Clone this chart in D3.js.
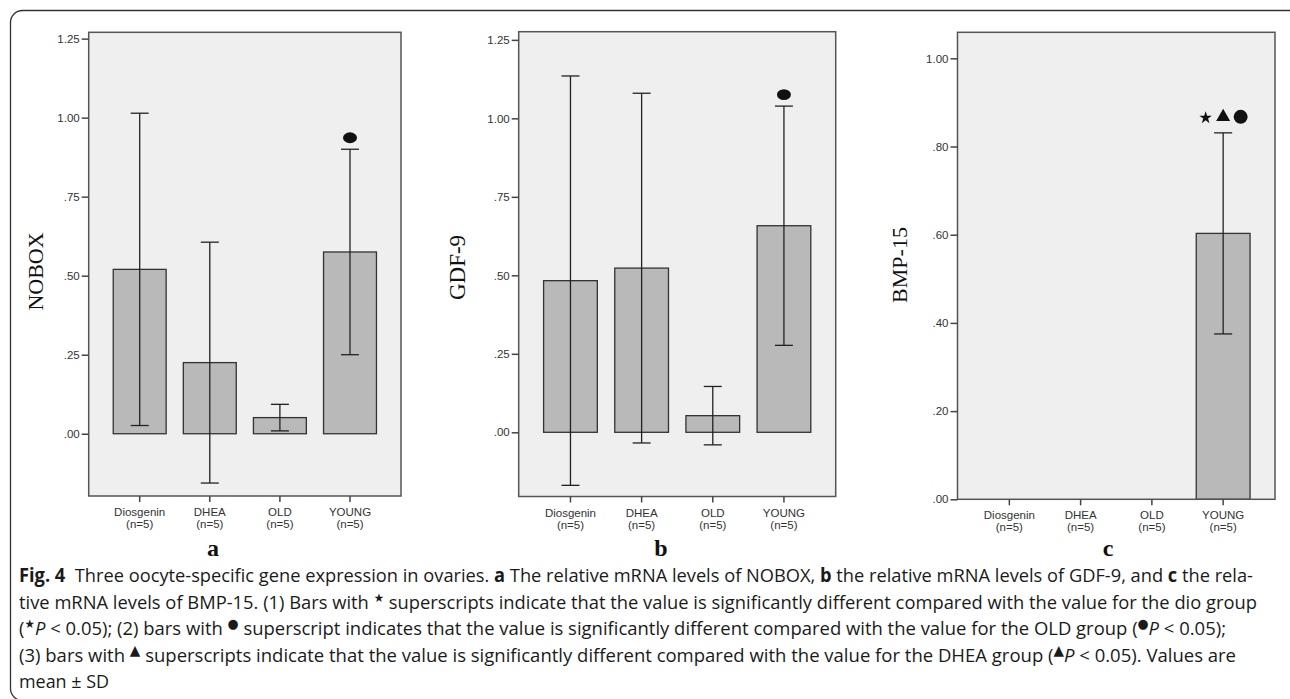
<!DOCTYPE html>
<html>
<head>
<meta charset="utf-8">
<script src="https://cdn.jsdelivr.net/npm/d3@7"></script>
<style>
  body { margin: 0; background: #fff; }
  svg { display: block; }
</style>
</head>
<body>
<svg id="fig" width="1290" height="699"></svg>
<script>
// groups on the x axis (same in all three panels)
const groups = ["Diosgenin", "DHEA", "OLD", "YOUNG"];

// a - NOBOX
const noboxMean = [0.52, 0.225, 0.051, 0.575];
const noboxSD = [0.494, 0.381, 0.042, 0.325];
const noboxMarks = [[], [], [], ["circle"]];
const ticksAB = [0, 0.25, 0.5, 0.75, 1.0, 1.25];

// b - GDF-9
const gdfMean = [0.483, 0.523, 0.053, 0.658];
const gdfSD = [0.652, 0.557, 0.093, 0.381];
const gdfMarks = [[], [], [], ["circle"]];

// c - BMP-15
const bmpMean = [0, 0, 0, 0.603];
const bmpSD = [0, 0, 0, 0.228];
const bmpMarks = [[], [], [], ["star", "triangle", "circle"]];
const ticksC = [0, 0.2, 0.4, 0.6, 0.8, 1.0];

const svg = d3.select("#fig");

// outer figure frame
svg.append("rect")
  .attr("x", 10.5).attr("y", 10.5)
  .attr("width", 1292).attr("height", 690)
  .attr("rx", 12)
  .attr("fill", "none")
  .attr("stroke", "#333")
  .attr("stroke-width", 1.3);

const fmt = (d) => d3.format(".2f")(d).replace(/^0/, "");

const symbolTypes = {
  star: { type: d3.symbolStar, size: 48 },
  triangle: { type: d3.symbolTriangle, size: 85 },
  circle: { type: d3.symbolCircle, size: 154 },
};

function drawPanel(p) {
  const g = svg.append("g");

  const x = d3.scaleBand()
    .domain(groups)
    .range([p.x0, p.x1])
    .paddingInner(0.245)
    .paddingOuter(0.35);

  const y = d3.scaleLinear().domain(p.domain).range([p.y1, p.y0]);

  // plot background
  g.append("rect")
    .attr("x", p.x0).attr("y", p.y0)
    .attr("width", p.x1 - p.x0).attr("height", p.y1 - p.y0)
    .attr("fill", "#efefef");

  const rows = groups.map((name, i) => ({
    name, mean: p.mean[i], sd: p.sd[i], marks: p.marks[i],
  }));

  // bars
  g.selectAll(".bar")
    .data(rows)
    .join("rect")
    .attr("class", "bar")
    .attr("x", (d) => x(d.name))
    .attr("y", (d) => y(Math.max(0, d.mean)))
    .attr("width", x.bandwidth())
    .attr("height", (d) => Math.abs(y(d.mean) - y(0)))
    .attr("fill", "#b9b9b9")
    .attr("stroke", "#333")
    .attr("stroke-width", 1.3);

  // error bars (mean +/- SD)
  const err = g.selectAll(".err")
    .data(rows.filter((d) => d.sd > 0))
    .join("g")
    .attr("class", "err")
    .attr("stroke", "#222")
    .attr("stroke-width", 1.3);
  const cx = (d) => x(d.name) + x.bandwidth() / 2;
  err.append("line")
    .attr("x1", cx).attr("x2", cx)
    .attr("y1", (d) => y(d.mean + d.sd))
    .attr("y2", (d) => y(d.mean - d.sd));
  err.append("line")
    .attr("x1", (d) => cx(d) - 9).attr("x2", (d) => cx(d) + 9)
    .attr("y1", (d) => y(d.mean + d.sd)).attr("y2", (d) => y(d.mean + d.sd));
  err.append("line")
    .attr("x1", (d) => cx(d) - 9).attr("x2", (d) => cx(d) + 9)
    .attr("y1", (d) => y(d.mean - d.sd)).attr("y2", (d) => y(d.mean - d.sd));

  // significance marks above the error bar
  rows.forEach((d) => {
    const n = d.marks.length;
    d.marks.forEach((m, k) => {
      const s = symbolTypes[m];
      const mx = cx(d) + (k - (n - 1) / 2) * 17.5;
      const my = y(d.mean + d.sd) - p.markOffset;
      g.append("path")
        .attr("d", d3.symbol().type(s.type).size(s.size)())
        .attr("transform", `translate(${mx},${my + (m === "star" ? 1 : 0)}) scale(${p.markScaleX},${p.markScaleY})`)
        .attr("fill", "#111");
    });
  });

  // plot frame
  g.append("rect")
    .attr("x", p.x0).attr("y", p.y0)
    .attr("width", p.x1 - p.x0).attr("height", p.y1 - p.y0)
    .attr("fill", "none")
    .attr("stroke", "#555")
    .attr("stroke-width", 1.5);

  // y axis
  const yAxis = g.append("g")
    .attr("transform", `translate(${p.x0},0)`)
    .call(d3.axisLeft(y).tickValues(p.ticks).tickSize(7).tickPadding(2).tickFormat(fmt));
  yAxis.select(".domain").remove();
  yAxis.selectAll("line").attr("stroke", "#444").attr("stroke-width", 1.5);
  yAxis.selectAll("text")
    .attr("font-family", "Liberation Sans, Arial, sans-serif")
    .attr("font-size", 11.5)
    .attr("fill", "#333");

  // x axis
  const xAxis = g.append("g")
    .attr("transform", `translate(0,${p.y1})`)
    .call(d3.axisBottom(x).tickSize(6).tickFormat(""));
  xAxis.select(".domain").remove();
  xAxis.selectAll("line").attr("stroke", "#444").attr("stroke-width", 1.5);

  const lab = g.selectAll(".xlab")
    .data(groups)
    .join("text")
    .attr("class", "xlab")
    .attr("x", (d) => x(d) + x.bandwidth() / 2)
    .attr("y", p.y1 + 20)
    .attr("text-anchor", "middle")
    .attr("font-family", "Liberation Sans, Arial, sans-serif")
    .attr("font-size", 11.5)
    .attr("fill", "#333");
  lab.append("tspan").text((d) => d);
  lab.append("tspan")
    .attr("x", (d) => x(d) + x.bandwidth() / 2)
    .attr("dy", 12)
    .text("(n=5)");

  // y label
  g.append("text")
    .attr("transform", `translate(${p.labelX},${p.labelY}) rotate(-90)`)
    .attr("text-anchor", "middle")
    .attr("font-family", "Liberation Serif, Times New Roman, serif")
    .attr("font-size", p.labelSize)
    .attr("fill", "#111")
    .text(p.label);

  // panel letter
  g.append("text")
    .attr("x", p.letterX)
    .attr("y", 556)
    .attr("text-anchor", "middle")
    .attr("font-family", "Liberation Serif, Times New Roman, serif")
    .attr("font-weight", "bold")
    .attr("font-size", 24)
    .attr("fill", "#111")
    .text(p.letter);
}

drawPanel({
  x0: 88.7, x1: 401, y0: 32.3, y1: 496,
  domain: [-0.197, 1.27], ticks: ticksAB,
  mean: noboxMean, sd: noboxSD, marks: noboxMarks,
  markOffset: 11.5, markScaleX: 1, markScaleY: 0.77,
  label: "NOBOX", labelSize: 22, labelX: 43, labelY: 271.5,
  letter: "a", letterX: 213,
});

drawPanel({
  x0: 518.7, x1: 835.7, y0: 31.7, y1: 496.5,
  domain: [-0.2045, 1.276], ticks: ticksAB,
  mean: gdfMean, sd: gdfSD, marks: gdfMarks,
  markOffset: 11.5, markScaleX: 1, markScaleY: 0.77,
  label: "GDF-9", labelSize: 23, labelX: 465, labelY: 267.5,
  letter: "b", letterX: 661,
});

drawPanel({
  x0: 957.5, x1: 1275, y0: 32.3, y1: 499.3,
  domain: [0, 1.059], ticks: ticksC,
  mean: bmpMean, sd: bmpSD, marks: bmpMarks,
  markOffset: 16, markScaleX: 1, markScaleY: 1,
  label: "BMP-15", labelSize: 22, labelX: 907, labelY: 265,
  letter: "c", letterX: 1108,
});

// caption
const capLines = [
  { y: 582, len: 1234, parts: [
    ["Fig. 4", "b"], ["  Three oocyte-specific gene expression in ovaries. "], ["a", "b"],
    [" The relative mRNA levels of NOBOX, "], ["b", "b"],
    [" the relative mRNA levels of GDF-9, and "], ["c", "b"], [" the rela-"]] },
  { y: 608.5, len: 1238, parts: [
    ["tive mRNA levels of BMP-15. (1) Bars with "], ["\u2605", "sup"],
    [" superscripts indicate that the value is significantly different compared with the value for the dio group"]] },
  { y: 635, len: 1207, parts: [
    ["("], ["\u2605", "sup"], ["P", "i"], [" < 0.05); (2) bars with "], ["\u25CF", "sup"],
    [" superscript indicates that the value is significantly different compared with the value for the OLD group ("],
    ["\u25CF", "sup"], ["P", "i"], [" < 0.05);"]] },
  { y: 661.5, len: 1217, parts: [
    ["(3) bars with "], ["\u25B2", "sup"],
    [" superscripts indicate that the value is significantly different compared with the value for the DHEA group ("],
    ["\u25B2", "sup"], ["P", "i"], [" < 0.05). Values are"]] },
  { y: 688, len: 90, parts: [["mean \u00B1 SD"]] },
];

const supSize = { "\u2605": 12, "\u25CF": 13, "\u25B2": 14 };

capLines.forEach((line) => {
  const t = svg.append("text")
    .attr("x", 19)
    .attr("y", line.y)
    .attr("font-family", "Liberation Sans Narrow, Open Sans, Noto Sans, sans-serif")
    .attr("font-size", 19)
    .attr("fill", "#1a1a1a")
    .attr("textLength", line.len)
    .attr("lengthAdjust", "spacingAndGlyphs")
    .style("white-space", "pre");
  let back = 0;
  line.parts.forEach(([txt, style]) => {
    const s = t.append("tspan").text(txt);
    if (back) { s.attr("dy", back); back = 0; }
    if (style === "b") s.attr("font-weight", "bold");
    if (style === "i") s.attr("font-style", "italic");
    if (style === "sup") {
      s.attr("font-family", "DejaVu Sans, sans-serif")
        .attr("font-size", supSize[txt])
        .attr("dy", -7);
      back = 7;
    }
  });
});
</script>
</body>
</html>
